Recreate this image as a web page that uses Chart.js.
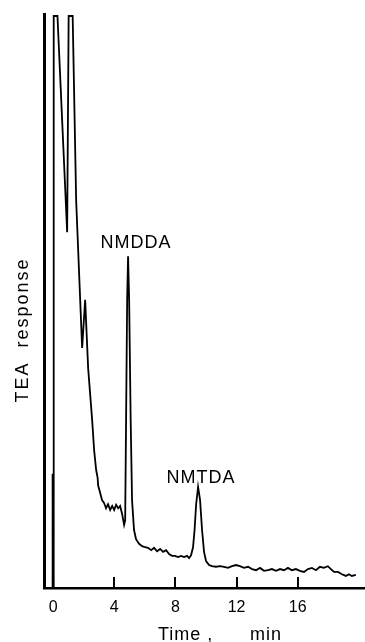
<!DOCTYPE html>
<html>
<head>
<meta charset="utf-8">
<script src="https://cdn.jsdelivr.net/npm/chart.js@4.4.1/dist/chart.umd.min.js"></script>
<style>
  html, body { margin: 0; padding: 0; background: #fff; }
  canvas { display: block; }
</style>
</head>
<body>
<canvas id="graf_tea" width="365" height="642"></canvas>
<script>
// chromatogram trace (time in min, detector response in % of full scale)
const timeMin = [
  -0.06, -0.045, -0.03, 0.02, 0.035, 0.281, 0.915, 1.013, 1.275, 1.503,
  1.895, 2.092, 2.288, 2.549, 2.68, 2.81, 2.908, 2.94, 3.07, 3.2,
  3.33, 3.46, 3.59, 3.73, 3.86, 3.99, 4.12, 4.25, 4.38, 4.51,
  4.64, 4.71, 4.77, 4.84, 4.90, 4.97, 5.07, 5.16, 5.29, 5.42,
  5.62, 5.82, 6.01, 6.21, 6.41, 6.60, 6.80, 7.0, 7.19, 7.39,
  7.58, 7.78, 7.97, 8.17, 8.37, 8.56, 8.76, 8.89, 9.02, 9.15,
  9.25, 9.35, 9.48, 9.61, 9.74, 9.87, 10.0, 10.2, 10.39, 10.65,
  10.92, 11.18, 11.44, 11.70, 11.96, 12.22, 12.48, 12.75, 13.01, 13.27,
  13.53, 13.79, 14.05, 14.31, 14.58, 14.84, 15.1, 15.36, 15.62, 15.88,
  16.14, 16.41, 16.67, 16.93, 17.19, 17.45, 17.71, 17.97, 18.17, 18.37,
  18.63, 18.89, 19.15, 19.35, 19.54, 19.80
];
const teaResponse = [
  0.35, 19.9, 0.35, 0.35, 99.65, 99.65, 62.0, 99.65, 99.65, 67.6,
  41.8, 50.2, 38.3, 29.3, 24.0, 20.6, 19.2, 17.9, 16.6, 15.3,
  14.8, 13.9, 14.6, 13.6, 14.3, 13.6, 14.5, 13.9, 14.3, 12.9,
  11.0, 11.8, 29.3, 50.2, 57.8, 50.2, 29.3, 15.3, 10.1, 8.5,
  7.7, 7.3, 7.1, 7.0, 6.6, 7.0, 6.4, 6.8, 6.3, 6.6,
  5.9, 5.6, 5.6, 5.4, 5.6, 5.4, 5.6, 5.2, 5.7, 7.1,
  10.1, 14.5, 17.6, 15.3, 10.1, 6.3, 4.7, 4.0, 3.8, 3.7,
  3.8, 3.7, 3.5, 3.8, 4.0, 3.8, 3.5, 3.7, 3.3, 3.1,
  3.5, 3.0, 3.1, 3.3, 3.0, 3.3, 3.1, 3.5, 3.1, 3.3,
  3.0, 2.8, 3.3, 3.5, 3.1, 3.7, 3.5, 3.8, 3.3, 2.8,
  2.8, 2.4, 2.1, 2.4, 2.1, 2.3
];
const xTickValues = [0, 4, 8, 12, 16];
const peakNames = ['NMDDA', 'NMTDA'];
const peakTimes = [4.90, 9.48];
const peakHeights = [57.8, 17.6];

const FONT = '"Liberation Sans", Arial, sans-serif';

const points = timeMin.map((t, i) => ({ x: t, y: teaResponse[i] }));

// little tick marks pointing into the plot, plus peak names and axis titles
const extrasPlugin = {
  id: 'extras',
  afterDraw(chart) {
    const ctx = chart.ctx;
    const xs = chart.scales.x;
    const ys = chart.scales.y;
    const area = chart.chartArea;
    ctx.save();
    ctx.strokeStyle = '#000';
    ctx.lineWidth = 2;
    xTickValues.forEach(v => {
      const px = Math.round(xs.getPixelForValue(v));
      ctx.beginPath();
      ctx.moveTo(px, area.bottom);
      ctx.lineTo(px, area.bottom - (v === 0 ? 6 : 11));
      ctx.stroke();
    });

    ctx.fillStyle = '#000';
    ctx.font = '18px ' + FONT;
    ctx.letterSpacing = '1px';
    ctx.textAlign = 'center';
    ctx.textBaseline = 'alphabetic';
    const offs = [[8, -8], [3, -4]];
    peakNames.forEach((name, i) => {
      const px = xs.getPixelForValue(peakTimes[i]);
      const py = ys.getPixelForValue(peakHeights[i]);
      ctx.fillText(name, px + offs[i][0], py + offs[i][1]);
    });

    // x axis title
    ctx.font = '18px ' + FONT;
    ctx.textAlign = 'left';
    ctx.letterSpacing = '1px';
    ctx.fillText('Time ,', 158, 640);
    ctx.fillText('min', 250, 640);

    // y axis title
    ctx.translate(28, 330);
    ctx.rotate(-Math.PI / 2);
    ctx.textAlign = 'center';
    ctx.letterSpacing = '2px';
    ctx.fillText('TEA  response', 0, 0);
    ctx.restore();
  }
};

const ctxTea = document.getElementById('graf_tea').getContext('2d');
new Chart(ctxTea, {
  type: 'line',
  data: {
    datasets: [{
      data: points,
      borderColor: '#000',
      borderWidth: 1.8,
      pointRadius: 0,
      tension: 0,
      fill: false
    }]
  },
  options: {
    responsive: false,
    animation: false,
    devicePixelRatio: 1,
    layout: { padding: { top: 14, right: 0, left: 0, bottom: 0 } },
    plugins: {
      legend: { display: false },
      tooltip: { enabled: false },
      title: { display: false }
    },
    scales: {
      x: {
        type: 'linear',
        min: -0.6,
        max: 20.4,
        afterBuildTicks: s => { s.ticks = xTickValues.map(v => ({ value: v })); },
        afterFit: s => { s.height = 54; },
        grid: { display: false, drawTicks: false },
        border: { display: true, color: '#000', width: 2.5 },
        ticks: {
          color: '#000',
          font: { family: FONT, size: 16 },
          padding: 10,
          maxRotation: 0,
          autoSkip: false
        }
      },
      y: {
        min: 0,
        max: 100,
        afterFit: s => { s.width = 44; },
        grid: { display: false, drawTicks: false },
        border: { display: true, color: '#000', width: 3 },
        ticks: { display: false }
      }
    }
  },
  plugins: [extrasPlugin]
});
</script>
</body>
</html>
